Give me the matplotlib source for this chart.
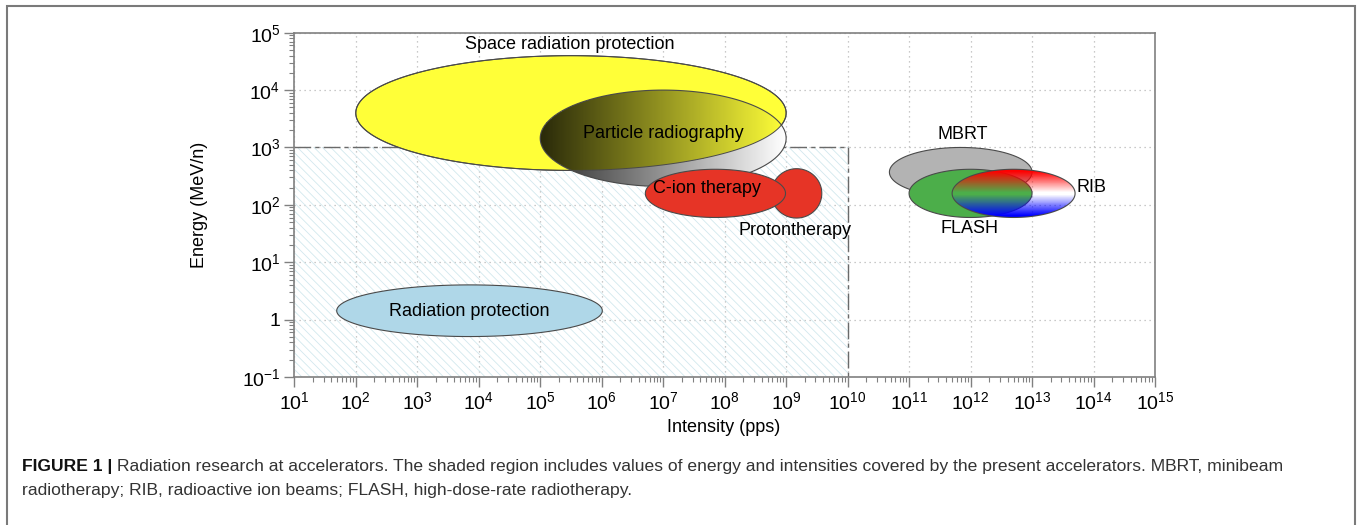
import numpy as np
import matplotlib
matplotlib.use("Agg")
import matplotlib.pyplot as plt
from matplotlib.patches import Polygon, Rectangle
from matplotlib.ticker import LogLocator, FixedLocator, FuncFormatter, NullFormatter

plt.rcParams['font.family'] = ['Liberation Sans', 'DejaVu Sans']
plt.rcParams['mathtext.fontset'] = 'custom'
plt.rcParams['mathtext.rm'] = 'Liberation Sans'
plt.rcParams['mathtext.it'] = 'Liberation Sans:italic'
plt.rcParams['mathtext.bf'] = 'Liberation Sans:bold'
plt.rcParams['mathtext.default'] = 'regular'
plt.rcParams['hatch.linewidth'] = 0.6
plt.rcParams['hatch.color'] = '#d2e8ee'

# ---------------- data (log10 units of intensity [pps] and energy [MeV/n]) -------------
region_names = ["Space radiation protection", "Particle radiography", "Protontherapy",
                "C-ion therapy", "Radiation protection", "MBRT", "FLASH", "RIB"]
log_intensity_center = [5.5, 7.0, 9.17, 7.85, 3.85, 11.84, 12.0, 12.7]
log_intensity_halfspan = [3.5, 2.0, 0.41, 1.14, 2.16, 1.16, 1.0, 1.0]
log_energy_center = [3.6, 3.16, 2.2, 2.2, 0.155, 2.57, 2.2, 2.2]
log_energy_halfspan = [1.0, 0.84, 0.43, 0.42, 0.45, 0.43, 0.42, 0.42]

accel_intensity_range = [1e1, 1e10]   # present accelerators (shaded)
accel_energy_range = [1e-1, 1e3]

x_tick_exponents = list(range(1, 16))
y_tick_exponents = list(range(-1, 6))

caption_bold = "FIGURE 1 |"
caption_line1 = ("Radiation research at accelerators. The shaded region includes values of energy "
                 "and intensities covered by the present accelerators. MBRT, minibeam")
caption_line2 = "radiotherapy; RIB, radioactive ion beams; FLASH, high-dose-rate radiotherapy."

# ---------------- figure ----------------
W, H = 1360, 525
fig = plt.figure(figsize=(W / 100, H / 100), dpi=100)
ax = fig.add_axes([294.3 / W, 1 - 377 / H, (1155 - 294.3) / W, (377 - 32.7) / H])
ax.set_xscale('log')
ax.set_yscale('log')
ax.set_xlim(10.0 ** x_tick_exponents[0], 10.0 ** x_tick_exponents[-1])
ax.set_ylim(10.0 ** y_tick_exponents[0], 10.0 ** y_tick_exponents[-1])

idx = {n: i for i, n in enumerate(region_names)}


def ellipse_xy(name, n=500):
    i = idx[name]
    t = np.linspace(0, 2 * np.pi, n)
    lx = log_intensity_center[i] + log_intensity_halfspan[i] * np.cos(t)
    ly = log_energy_center[i] + log_energy_halfspan[i] * np.sin(t)
    return np.column_stack([10 ** lx, 10 ** ly])


def inside(name, LX, LY):
    i = idx[name]
    return (((LX - log_intensity_center[i]) / log_intensity_halfspan[i]) ** 2 +
            ((LY - log_energy_center[i]) / log_energy_halfspan[i]) ** 2) <= 1.0


def solid(name, fc, z, ec='#4a4a4a', lw=0.8):
    p = Polygon(ellipse_xy(name), closed=True, facecolor=fc, edgecolor=ec, lw=lw, zorder=z)
    ax.add_patch(p)
    return p


def outline(name, z, ec='#4a4a4a', lw=0.8):
    p = Polygon(ellipse_xy(name), closed=True, facecolor='none', edgecolor=ec, lw=lw, zorder=z)
    ax.add_patch(p)


def gradient(name, func, z, nx=500, ny=200):
    i = idx[name]
    cx, rx = log_intensity_center[i], log_intensity_halfspan[i]
    cy, ry = log_energy_center[i], log_energy_halfspan[i]
    lx = np.linspace(cx - rx, cx + rx, nx + 1)
    ly = np.linspace(cy - ry, cy + ry, ny + 1)
    XC, YC = np.meshgrid(0.5 * (lx[:-1] + lx[1:]), 0.5 * (ly[:-1] + ly[1:]))
    C = func(XC, YC, cx, rx, cy, ry)
    mesh = ax.pcolormesh(10 ** lx, 10 ** ly, C, shading='flat', antialiased=False,
                         edgecolors='none', zorder=z)
    clip = Polygon(ellipse_xy(name), closed=True, transform=ax.transData)
    mesh.set_clip_path(clip)


# grid
ax.grid(True, which='major', linestyle=(0, (1, 3)), color='#b8b8b8', lw=0.9, zorder=0.5)
ax.set_axisbelow(True)

# shaded region of present accelerators
x0, x1 = accel_intensity_range
y0, y1 = accel_energy_range
ax.add_patch(Polygon([[x0, y0], [x1, y0], [x1, y1], [x0, y1]], closed=True,
                     facecolor='none', edgecolor='#d2e8ee', lw=0, hatch='\\\\\\\\', zorder=1))
ax.plot([x0, x1, x1], [y1, y1, y0], color='#6a6a6a', lw=1.0,
        linestyle=(0, (12, 3, 3, 3)), zorder=1.5)

# Radiation protection
solid("Radiation protection", '#afd7e8', 2)

# Space radiation protection
YELLOW = np.array([1.0, 1.0, 0.22])
solid("Space radiation protection", YELLOW, 2)


def particle_rgba(LX, LY, cx, rx, cy, ry):
    frac = (LX - (cx - rx)) / (2 * rx)
    g = 0.16 + 0.84 * frac
    base = np.where(inside("Space radiation protection", LX, LY)[..., None], YELLOW, 1.0)
    rgb = g[..., None] * base
    return np.concatenate([np.clip(rgb, 0, 1), np.ones(LX.shape + (1,))], axis=-1)


gradient("Particle radiography", particle_rgba, 3)
outline("Particle radiography", 3.1)
outline("Space radiation protection", 3.2, lw=0.7)

# therapies
solid("Protontherapy", '#e63426', 4)
solid("C-ion therapy", '#e63426', 4.1)

solid("MBRT", '#b3b3b3', 4)
solid("FLASH", '#4cae4a', 4.1)


def rib_rgba(LX, LY, cx, rx, cy, ry):
    t = (LY - cy) / ry
    a = np.clip(np.abs(t) * 1.15 - 0.05, 0, 1)
    rgb = np.where((t > 0)[..., None], np.array([1.0, 0.0, 0.0]), np.array([0.0, 0.0, 1.0]))
    return np.concatenate([rgb, a[..., None]], axis=-1)


gradient("RIB", rib_rgba, 4.2)
outline("RIB", 4.3)

# labels
label_pos = {
    "Space radiation protection": (5.48, 4.8),
    "Particle radiography": (7.0, 3.25),
    "C-ion therapy": (7.71, 2.29),
    "Protontherapy": (9.14, 1.545),
    "Radiation protection": (3.84, 0.15),
    "MBRT": (11.87, 3.22),
    "FLASH": (11.99, 1.58),
    "RIB": (13.97, 2.31),
}
for name, (lx, ly) in label_pos.items():
    ax.text(10 ** lx, 10 ** ly, name, ha='center', va='center', fontsize=13,
            color='black', zorder=6)

# axes style
for s in ax.spines.values():
    s.set_color('#808080')
    s.set_linewidth(1.2)
ax.xaxis.set_major_locator(FixedLocator([10.0 ** k for k in x_tick_exponents]))
ax.yaxis.set_major_locator(FixedLocator([10.0 ** k for k in y_tick_exponents]))
ax.xaxis.set_minor_locator(LogLocator(base=10, subs=np.arange(2, 10), numticks=100))
ax.yaxis.set_minor_locator(LogLocator(base=10, subs=np.arange(2, 10), numticks=100))
ax.xaxis.set_minor_formatter(NullFormatter())
ax.yaxis.set_minor_formatter(NullFormatter())
ax.xaxis.set_major_formatter(FuncFormatter(lambda v, p: r'$10^{%d}$' % round(np.log10(v))))
ax.yaxis.set_major_formatter(FuncFormatter(
    lambda v, p: '1' if round(np.log10(v)) == 0 else r'$10^{%d}$' % round(np.log10(v))))
ax.tick_params(which='major', direction='out', length=7, width=1, color='#808080',
               labelsize=14, labelcolor='black', pad=3)
ax.tick_params(which='minor', direction='out', length=3.5, width=0.8, color='#808080')

ax.set_xlabel("Intensity (pps)", fontsize=13)
ax.set_ylabel("Energy (MeV/n)", fontsize=13)
ax.xaxis.set_label_coords((724 - 294.3) / 860.7, (377 - 427) / 344.3)
ax.xaxis.label.set_va('center')
ax.yaxis.set_label_coords((200 - 294.3) / 860.7, (377 - 205) / 344.3)
ax.yaxis.label.set_va('center')

# outer frame
fig.add_artist(Rectangle((7 / W, -0.2), (1355 - 7) / W, 1.2 - 6 / H, transform=fig.transFigure,
                         facecolor='none', edgecolor='#7a7a7a', lw=1.5, clip_on=False))

# caption
cap_fs = 12.6
tb = fig.text(22 / W, 1 - 466 / H, caption_bold, fontsize=cap_fs, fontweight='bold',
              ha='left', va='center', color='#111111')
fig.canvas.draw()
r = fig.canvas.get_renderer()
bb = tb.get_window_extent(r)
t1 = fig.text((bb.x1 + 5) / W, 1 - 466 / H, caption_line1, fontsize=cap_fs,
              ha='left', va='center', color='#333333')
t2 = fig.text(22 / W, 1 - 491 / H, caption_line2, fontsize=cap_fs,
              ha='left', va='center', color='#333333')

fig.savefig("out.png", dpi=100)
